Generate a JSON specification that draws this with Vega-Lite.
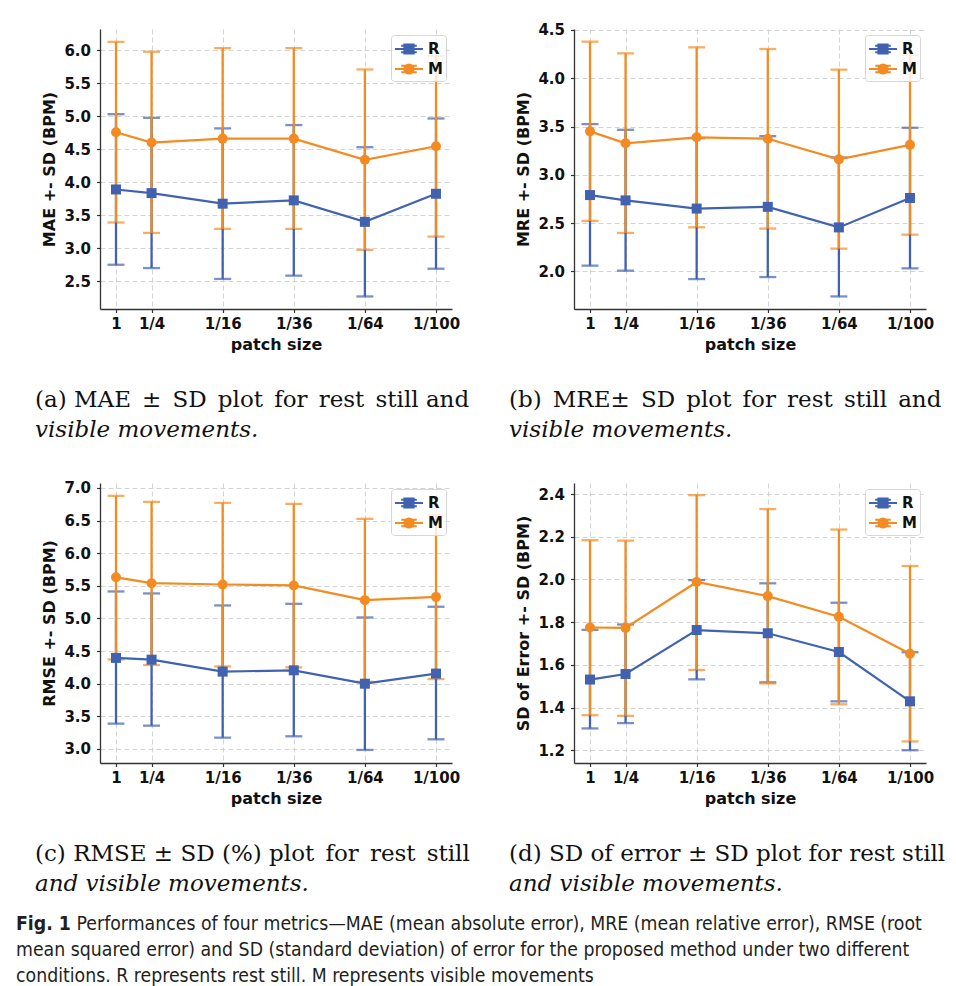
{
  "$schema": "https://vega.github.io/schema/vega-lite/v6.json",
  "background": "white",
  "padding": {"left": 16, "top": 22, "right": 0, "bottom": 0},
  "title": {
    "text": "Fig. 1",
    "subtitle": [
      "\u200b\u00a0\u00a0\u00a0\u00a0\u00a0\u00a0\u00a0\u00a0\u00a0\u00a0\u00a0Performances of four metrics\u2014MAE (mean absolute error), MRE (mean relative error), RMSE (root",
      "mean squared error) and SD (standard deviation) of error for the proposed method under two different",
      "conditions. R represents rest still. M represents visible movements"
    ],
    "orient": "bottom", "anchor": "start", "frame": "bounds", "dx": -19, "offset": 19,
    "font": "DejaVu Sans Condensed", "fontSize": 19.3, "fontWeight": "bold", "fontStyle": "normal", "color": "#231f20",
    "subtitleFont": "DejaVu Sans Condensed", "subtitleFontSize": 19.3, "subtitleFontStyle": "normal", "subtitleFontWeight": "normal",
    "subtitleColor": "#231f20", "subtitleLineHeight": 26, "subtitlePadding": -19.3
  },
  "spacing": 454,
  "bounds": "flush",
  "resolve": {"scale": {"color": "independent"}},
  "vconcat": [
    {
      "spacing": 122,
      "bounds": "flush",
      "resolve": {"scale": {"color": "independent"}},
      "hconcat": [
        {
          "width": 352, "height": 280,
          "title": {"text": "(a) MAE \u2006\u00b1 \u2006SD \u2006plot \u2006for \u2006rest \u2006still and", "subtitle": "visible movements."},
          "data": {"values": [
            {"patch": "1", "pos": 1, "g": "R", "mean": 3.89, "lo": 2.75, "hi": 5.03},
            {"patch": "1/4", "pos": 2, "g": "R", "mean": 3.835, "lo": 2.70, "hi": 4.975},
            {"patch": "1/16", "pos": 4, "g": "R", "mean": 3.675, "lo": 2.535, "hi": 4.815},
            {"patch": "1/36", "pos": 6, "g": "R", "mean": 3.725, "lo": 2.585, "hi": 4.865},
            {"patch": "1/64", "pos": 8, "g": "R", "mean": 3.40, "lo": 2.27, "hi": 4.53},
            {"patch": "1/100", "pos": 10, "g": "R", "mean": 3.825, "lo": 2.69, "hi": 4.965},
            {"patch": "1", "pos": 1, "g": "M", "mean": 4.757, "lo": 3.39, "hi": 6.125},
            {"patch": "1/4", "pos": 2, "g": "M", "mean": 4.60, "lo": 3.232, "hi": 5.975},
            {"patch": "1/16", "pos": 4, "g": "M", "mean": 4.66, "lo": 3.293, "hi": 6.03},
            {"patch": "1/36", "pos": 6, "g": "M", "mean": 4.66, "lo": 3.293, "hi": 6.03},
            {"patch": "1/64", "pos": 8, "g": "M", "mean": 4.34, "lo": 2.975, "hi": 5.707},
            {"patch": "1/100", "pos": 10, "g": "M", "mean": 4.545, "lo": 3.177, "hi": 5.913}
          ]},
          "encoding": {
            "x": {"field": "pos", "type": "quantitative", "scale": {"domain": [0.55, 10.45], "nice": false, "zero": false},
                  "axis": {"values": [1, 2, 4, 6, 8, 10], "labelExpr": "datum.value == 1 ? '1' : '1/' + datum.value * datum.value", "title": "patch size"}},
            "color": {"field": "g", "type": "nominal", "scale": {"domain": ["R", "M"], "range": ["#4062b0", "#f38b22"]},
              "legend": {"title": null, "symbolSize": 400, "encoding": {"symbols": {
                "shape": {"condition": {"test": "datum.value === 'R'", "value": "M-1,0H1.8M0.4,-0.33V0.33M-0.38,-0.33H1.18M-0.38,0.33H1.18M-0.06,-0.46H0.86V0.46H-0.06Z"}, "value": "M-1,0H1.8M0.4,-0.33V0.33M-0.38,-0.33H1.18M-0.38,0.33H1.18M-0.06,0A0.46,0.46,0,1,0,0.86,0A0.46,0.46,0,1,0,-0.06,0Z"},
                "stroke": {"condition": {"test": "datum.value === 'R'", "value": "#4062b0"}, "value": "#f38b22"},
                "strokeWidth": {"value": 2}, "opacity": {"value": 1}}}}}
          },
          "layer": [
            {"mark": {"type": "errorbar", "ticks": true, "size": 17, "thickness": 2.3},
             "encoding": {"y": {"field": "lo", "type": "quantitative", "scale": {"domain": [2.08, 6.32], "nice": false, "zero": false}, "axis": {"title": "MAE +- SD (BPM)", "values": [2.5, 3, 3.5, 4, 4.5, 5, 5.5, 6], "format": ".1f"}}, "y2": {"field": "hi"}}},
            {"mark": {"type": "line", "strokeWidth": 2.2},
             "encoding": {"y": {"field": "mean", "type": "quantitative", "scale": {"domain": [2.08, 6.32], "nice": false, "zero": false}, "axis": {"title": "MAE +- SD (BPM)", "values": [2.5, 3, 3.5, 4, 4.5, 5, 5.5, 6], "format": ".1f"}}}},
            {"transform": [{"filter": "datum.g === 'R'"}],
             "mark": {"type": "point", "shape": "square", "filled": true, "opacity": 1, "size": 100},
             "encoding": {"y": {"field": "mean", "type": "quantitative", "scale": {"domain": [2.08, 6.32], "nice": false, "zero": false}, "axis": {"title": "MAE +- SD (BPM)", "values": [2.5, 3, 3.5, 4, 4.5, 5, 5.5, 6], "format": ".1f"}}}},
            {"transform": [{"filter": "datum.g === 'M'"}],
             "mark": {"type": "point", "shape": "circle", "filled": true, "opacity": 1, "size": 100},
             "encoding": {"y": {"field": "mean", "type": "quantitative", "scale": {"domain": [2.08, 6.32], "nice": false, "zero": false}, "axis": {"title": "MAE +- SD (BPM)", "values": [2.5, 3, 3.5, 4, 4.5, 5, 5.5, 6], "format": ".1f"}}}}
          ]
        },
        {
          "width": 352, "height": 280,
          "title": {"text": "(b) \u2006MRE\u00b1 \u2006SD \u2006plot \u2006for \u2006rest \u2006still \u2006and", "subtitle": "visible movements."},
          "data": {"values": [
            {"patch": "1", "pos": 1, "g": "R", "mean": 2.79, "lo": 2.059, "hi": 3.525},
            {"patch": "1/4", "pos": 2, "g": "R", "mean": 2.735, "lo": 2.007, "hi": 3.466},
            {"patch": "1/16", "pos": 4, "g": "R", "mean": 2.65, "lo": 1.92, "hi": 3.38},
            {"patch": "1/36", "pos": 6, "g": "R", "mean": 2.668, "lo": 1.941, "hi": 3.40},
            {"patch": "1/64", "pos": 8, "g": "R", "mean": 2.455, "lo": 1.74, "hi": 3.18},
            {"patch": "1/100", "pos": 10, "g": "R", "mean": 2.76, "lo": 2.031, "hi": 3.487},
            {"patch": "1", "pos": 1, "g": "M", "mean": 3.45, "lo": 2.522, "hi": 4.379},
            {"patch": "1/4", "pos": 2, "g": "M", "mean": 3.326, "lo": 2.398, "hi": 4.258},
            {"patch": "1/16", "pos": 4, "g": "M", "mean": 3.388, "lo": 2.456, "hi": 4.32},
            {"patch": "1/36", "pos": 6, "g": "M", "mean": 3.373, "lo": 2.443, "hi": 4.303},
            {"patch": "1/64", "pos": 8, "g": "M", "mean": 3.16, "lo": 2.235, "hi": 4.089},
            {"patch": "1/100", "pos": 10, "g": "M", "mean": 3.31, "lo": 2.38, "hi": 4.24}
          ]},
          "encoding": {
            "x": {"field": "pos", "type": "quantitative", "scale": {"domain": [0.55, 10.45], "nice": false, "zero": false},
                  "axis": {"values": [1, 2, 4, 6, 8, 10], "labelExpr": "datum.value == 1 ? '1' : '1/' + datum.value * datum.value", "title": "patch size"}},
            "color": {"field": "g", "type": "nominal", "scale": {"domain": ["R", "M"], "range": ["#4062b0", "#f38b22"]},
              "legend": {"title": null, "symbolSize": 400, "encoding": {"symbols": {
                "shape": {"condition": {"test": "datum.value === 'R'", "value": "M-1,0H1.8M0.4,-0.33V0.33M-0.38,-0.33H1.18M-0.38,0.33H1.18M-0.06,-0.46H0.86V0.46H-0.06Z"}, "value": "M-1,0H1.8M0.4,-0.33V0.33M-0.38,-0.33H1.18M-0.38,0.33H1.18M-0.06,0A0.46,0.46,0,1,0,0.86,0A0.46,0.46,0,1,0,-0.06,0Z"},
                "stroke": {"condition": {"test": "datum.value === 'R'", "value": "#4062b0"}, "value": "#f38b22"},
                "strokeWidth": {"value": 2}, "opacity": {"value": 1}}}}}
          },
          "layer": [
            {"mark": {"type": "errorbar", "ticks": true, "size": 17, "thickness": 2.3},
             "encoding": {"y": {"field": "lo", "type": "quantitative", "scale": {"domain": [1.61, 4.51], "nice": false, "zero": false}, "axis": {"title": "MRE +- SD (BPM)", "values": [2, 2.5, 3, 3.5, 4, 4.5], "format": ".1f"}}, "y2": {"field": "hi"}}},
            {"mark": {"type": "line", "strokeWidth": 2.2},
             "encoding": {"y": {"field": "mean", "type": "quantitative", "scale": {"domain": [1.61, 4.51], "nice": false, "zero": false}, "axis": {"title": "MRE +- SD (BPM)", "values": [2, 2.5, 3, 3.5, 4, 4.5], "format": ".1f"}}}},
            {"transform": [{"filter": "datum.g === 'R'"}],
             "mark": {"type": "point", "shape": "square", "filled": true, "opacity": 1, "size": 100},
             "encoding": {"y": {"field": "mean", "type": "quantitative", "scale": {"domain": [1.61, 4.51], "nice": false, "zero": false}, "axis": {"title": "MRE +- SD (BPM)", "values": [2, 2.5, 3, 3.5, 4, 4.5], "format": ".1f"}}}},
            {"transform": [{"filter": "datum.g === 'M'"}],
             "mark": {"type": "point", "shape": "circle", "filled": true, "opacity": 1, "size": 100},
             "encoding": {"y": {"field": "mean", "type": "quantitative", "scale": {"domain": [1.61, 4.51], "nice": false, "zero": false}, "axis": {"title": "MRE +- SD (BPM)", "values": [2, 2.5, 3, 3.5, 4, 4.5], "format": ".1f"}}}}
          ]
        }
      ]
    },
    {
      "spacing": 122,
      "bounds": "flush",
      "resolve": {"scale": {"color": "independent"}},
      "hconcat": [
        {
          "width": 352, "height": 280,
          "title": {"text": "(c) RMSE \u00b1 SD (%) plot \u2006for \u2006rest \u2006still", "subtitle": "and visible movements."},
          "data": {"values": [
            {"patch": "1", "pos": 1, "g": "R", "mean": 4.395, "lo": 3.388, "hi": 5.413},
            {"patch": "1/4", "pos": 2, "g": "R", "mean": 4.368, "lo": 3.357, "hi": 5.383},
            {"patch": "1/16", "pos": 4, "g": "R", "mean": 4.185, "lo": 3.173, "hi": 5.199},
            {"patch": "1/36", "pos": 6, "g": "R", "mean": 4.205, "lo": 3.194, "hi": 5.224},
            {"patch": "1/64", "pos": 8, "g": "R", "mean": 4.0, "lo": 2.985, "hi": 5.015},
            {"patch": "1/100", "pos": 10, "g": "R", "mean": 4.155, "lo": 3.148, "hi": 5.179},
            {"patch": "1", "pos": 1, "g": "M", "mean": 5.63, "lo": 4.372, "hi": 6.878},
            {"patch": "1/4", "pos": 2, "g": "M", "mean": 5.54, "lo": 4.286, "hi": 6.786},
            {"patch": "1/16", "pos": 4, "g": "M", "mean": 5.52, "lo": 4.265, "hi": 6.77},
            {"patch": "1/36", "pos": 6, "g": "M", "mean": 5.505, "lo": 4.25, "hi": 6.755},
            {"patch": "1/64", "pos": 8, "g": "M", "mean": 5.28, "lo": 4.03, "hi": 6.526},
            {"patch": "1/100", "pos": 10, "g": "M", "mean": 5.33, "lo": 4.071, "hi": 6.587}
          ]},
          "encoding": {
            "x": {"field": "pos", "type": "quantitative", "scale": {"domain": [0.55, 10.45], "nice": false, "zero": false},
                  "axis": {"values": [1, 2, 4, 6, 8, 10], "labelExpr": "datum.value == 1 ? '1' : '1/' + datum.value * datum.value", "title": "patch size"}},
            "color": {"field": "g", "type": "nominal", "scale": {"domain": ["R", "M"], "range": ["#4062b0", "#f38b22"]},
              "legend": {"title": null, "symbolSize": 400, "encoding": {"symbols": {
                "shape": {"condition": {"test": "datum.value === 'R'", "value": "M-1,0H1.8M0.4,-0.33V0.33M-0.38,-0.33H1.18M-0.38,0.33H1.18M-0.06,-0.46H0.86V0.46H-0.06Z"}, "value": "M-1,0H1.8M0.4,-0.33V0.33M-0.38,-0.33H1.18M-0.38,0.33H1.18M-0.06,0A0.46,0.46,0,1,0,0.86,0A0.46,0.46,0,1,0,-0.06,0Z"},
                "stroke": {"condition": {"test": "datum.value === 'R'", "value": "#4062b0"}, "value": "#f38b22"},
                "strokeWidth": {"value": 2}, "opacity": {"value": 1}}}}}
          },
          "layer": [
            {"mark": {"type": "errorbar", "ticks": true, "size": 17, "thickness": 2.3},
             "encoding": {"y": {"field": "lo", "type": "quantitative", "scale": {"domain": [2.785, 7.075], "nice": false, "zero": false}, "axis": {"title": "RMSE +- SD (BPM)", "values": [3, 3.5, 4, 4.5, 5, 5.5, 6, 6.5, 7], "format": ".1f"}}, "y2": {"field": "hi"}}},
            {"mark": {"type": "line", "strokeWidth": 2.2},
             "encoding": {"y": {"field": "mean", "type": "quantitative", "scale": {"domain": [2.785, 7.075], "nice": false, "zero": false}, "axis": {"title": "RMSE +- SD (BPM)", "values": [3, 3.5, 4, 4.5, 5, 5.5, 6, 6.5, 7], "format": ".1f"}}}},
            {"transform": [{"filter": "datum.g === 'R'"}],
             "mark": {"type": "point", "shape": "square", "filled": true, "opacity": 1, "size": 100},
             "encoding": {"y": {"field": "mean", "type": "quantitative", "scale": {"domain": [2.785, 7.075], "nice": false, "zero": false}, "axis": {"title": "RMSE +- SD (BPM)", "values": [3, 3.5, 4, 4.5, 5, 5.5, 6, 6.5, 7], "format": ".1f"}}}},
            {"transform": [{"filter": "datum.g === 'M'"}],
             "mark": {"type": "point", "shape": "circle", "filled": true, "opacity": 1, "size": 100},
             "encoding": {"y": {"field": "mean", "type": "quantitative", "scale": {"domain": [2.785, 7.075], "nice": false, "zero": false}, "axis": {"title": "RMSE +- SD (BPM)", "values": [3, 3.5, 4, 4.5, 5, 5.5, 6, 6.5, 7], "format": ".1f"}}}}
          ]
        },
        {
          "width": 352, "height": 280,
          "title": {"text": "(d) SD of error \u00b1 SD plot for rest still", "subtitle": "and visible movements."},
          "data": {"values": [
            {"patch": "1", "pos": 1, "g": "R", "mean": 1.531, "lo": 1.302, "hi": 1.764},
            {"patch": "1/4", "pos": 2, "g": "R", "mean": 1.557, "lo": 1.327, "hi": 1.789},
            {"patch": "1/16", "pos": 4, "g": "R", "mean": 1.763, "lo": 1.532, "hi": 1.997},
            {"patch": "1/36", "pos": 6, "g": "R", "mean": 1.748, "lo": 1.518, "hi": 1.982},
            {"patch": "1/64", "pos": 8, "g": "R", "mean": 1.66, "lo": 1.429, "hi": 1.891},
            {"patch": "1/100", "pos": 10, "g": "R", "mean": 1.429, "lo": 1.20, "hi": 1.659},
            {"patch": "1", "pos": 1, "g": "M", "mean": 1.775, "lo": 1.364, "hi": 2.184},
            {"patch": "1/4", "pos": 2, "g": "M", "mean": 1.773, "lo": 1.361, "hi": 2.182},
            {"patch": "1/16", "pos": 4, "g": "M", "mean": 1.988, "lo": 1.576, "hi": 2.395},
            {"patch": "1/36", "pos": 6, "g": "M", "mean": 1.922, "lo": 1.513, "hi": 2.33},
            {"patch": "1/64", "pos": 8, "g": "M", "mean": 1.825, "lo": 1.415, "hi": 2.234},
            {"patch": "1/100", "pos": 10, "g": "M", "mean": 1.652, "lo": 1.241, "hi": 2.063}
          ]},
          "encoding": {
            "x": {"field": "pos", "type": "quantitative", "scale": {"domain": [0.55, 10.45], "nice": false, "zero": false},
                  "axis": {"values": [1, 2, 4, 6, 8, 10], "labelExpr": "datum.value == 1 ? '1' : '1/' + datum.value * datum.value", "title": "patch size"}},
            "color": {"field": "g", "type": "nominal", "scale": {"domain": ["R", "M"], "range": ["#4062b0", "#f38b22"]},
              "legend": {"title": null, "symbolSize": 400, "encoding": {"symbols": {
                "shape": {"condition": {"test": "datum.value === 'R'", "value": "M-1,0H1.8M0.4,-0.33V0.33M-0.38,-0.33H1.18M-0.38,0.33H1.18M-0.06,-0.46H0.86V0.46H-0.06Z"}, "value": "M-1,0H1.8M0.4,-0.33V0.33M-0.38,-0.33H1.18M-0.38,0.33H1.18M-0.06,0A0.46,0.46,0,1,0,0.86,0A0.46,0.46,0,1,0,-0.06,0Z"},
                "stroke": {"condition": {"test": "datum.value === 'R'", "value": "#4062b0"}, "value": "#f38b22"},
                "strokeWidth": {"value": 2}, "opacity": {"value": 1}}}}}
          },
          "layer": [
            {"mark": {"type": "errorbar", "ticks": true, "size": 17, "thickness": 2.3},
             "encoding": {"y": {"field": "lo", "type": "quantitative", "scale": {"domain": [1.14, 2.452], "nice": false, "zero": false}, "axis": {"title": "SD of Error +- SD (BPM)", "values": [1.2, 1.4, 1.6, 1.8, 2.0, 2.2, 2.4], "format": ".1f"}}, "y2": {"field": "hi"}}},
            {"mark": {"type": "line", "strokeWidth": 2.2},
             "encoding": {"y": {"field": "mean", "type": "quantitative", "scale": {"domain": [1.14, 2.452], "nice": false, "zero": false}, "axis": {"title": "SD of Error +- SD (BPM)", "values": [1.2, 1.4, 1.6, 1.8, 2.0, 2.2, 2.4], "format": ".1f"}}}},
            {"transform": [{"filter": "datum.g === 'R'"}],
             "mark": {"type": "point", "shape": "square", "filled": true, "opacity": 1, "size": 100},
             "encoding": {"y": {"field": "mean", "type": "quantitative", "scale": {"domain": [1.14, 2.452], "nice": false, "zero": false}, "axis": {"title": "SD of Error +- SD (BPM)", "values": [1.2, 1.4, 1.6, 1.8, 2.0, 2.2, 2.4], "format": ".1f"}}}},
            {"transform": [{"filter": "datum.g === 'M'"}],
             "mark": {"type": "point", "shape": "circle", "filled": true, "opacity": 1, "size": 100},
             "encoding": {"y": {"field": "mean", "type": "quantitative", "scale": {"domain": [1.14, 2.452], "nice": false, "zero": false}, "axis": {"title": "SD of Error +- SD (BPM)", "values": [1.2, 1.4, 1.6, 1.8, 2.0, 2.2, 2.4], "format": ".1f"}}}}
          ]
        }
      ]
    }
  ],
  "config": {
    "view": {"stroke": null},
    "axis": {
      "labelFont": "DejaVu Sans", "labelFontWeight": "bold", "labelFontSize": 15, "labelColor": "#111111",
      "titleFont": "DejaVu Sans", "titleFontWeight": "bold", "titleFontSize": 16, "titleColor": "#111111",
      "domainColor": "#333333", "domainWidth": 1.3, "tickColor": "#333333", "tickSize": 3.5, "tickWidth": 1.2,
      "gridColor": "#cfcfcf", "gridDash": [5, 3], "gridWidth": 0.9, "labelPadding": 4, "titlePadding": 5
    },
    "axisX": {"labelFlush": false, "labelOverlap": false},
    "axisY": {"titlePadding": 6, "labelPadding": 6},
    "legend": {
      "orient": "top-right", "offset": 6, "padding": 3, "fillColor": "rgba(255,255,255,0.8)", "strokeColor": "#d6d6d6",
      "cornerRadius": 3, "labelFont": "DejaVu Sans", "labelFontWeight": "bold", "labelFontSize": 15, "labelColor": "#111111",
      "labelOffset": 12, "rowPadding": -1
    },
    "title": {
      "font": "DejaVu Serif", "fontSize": 23, "fontWeight": "normal", "color": "#111111",
      "orient": "bottom", "anchor": "start", "frame": "group", "dx": -65, "offset": 36,
      "subtitleFont": "DejaVu Serif", "subtitleFontSize": 23, "subtitleFontStyle": "italic", "subtitleColor": "#111111",
      "subtitlePadding": 7
    }
  }
}
